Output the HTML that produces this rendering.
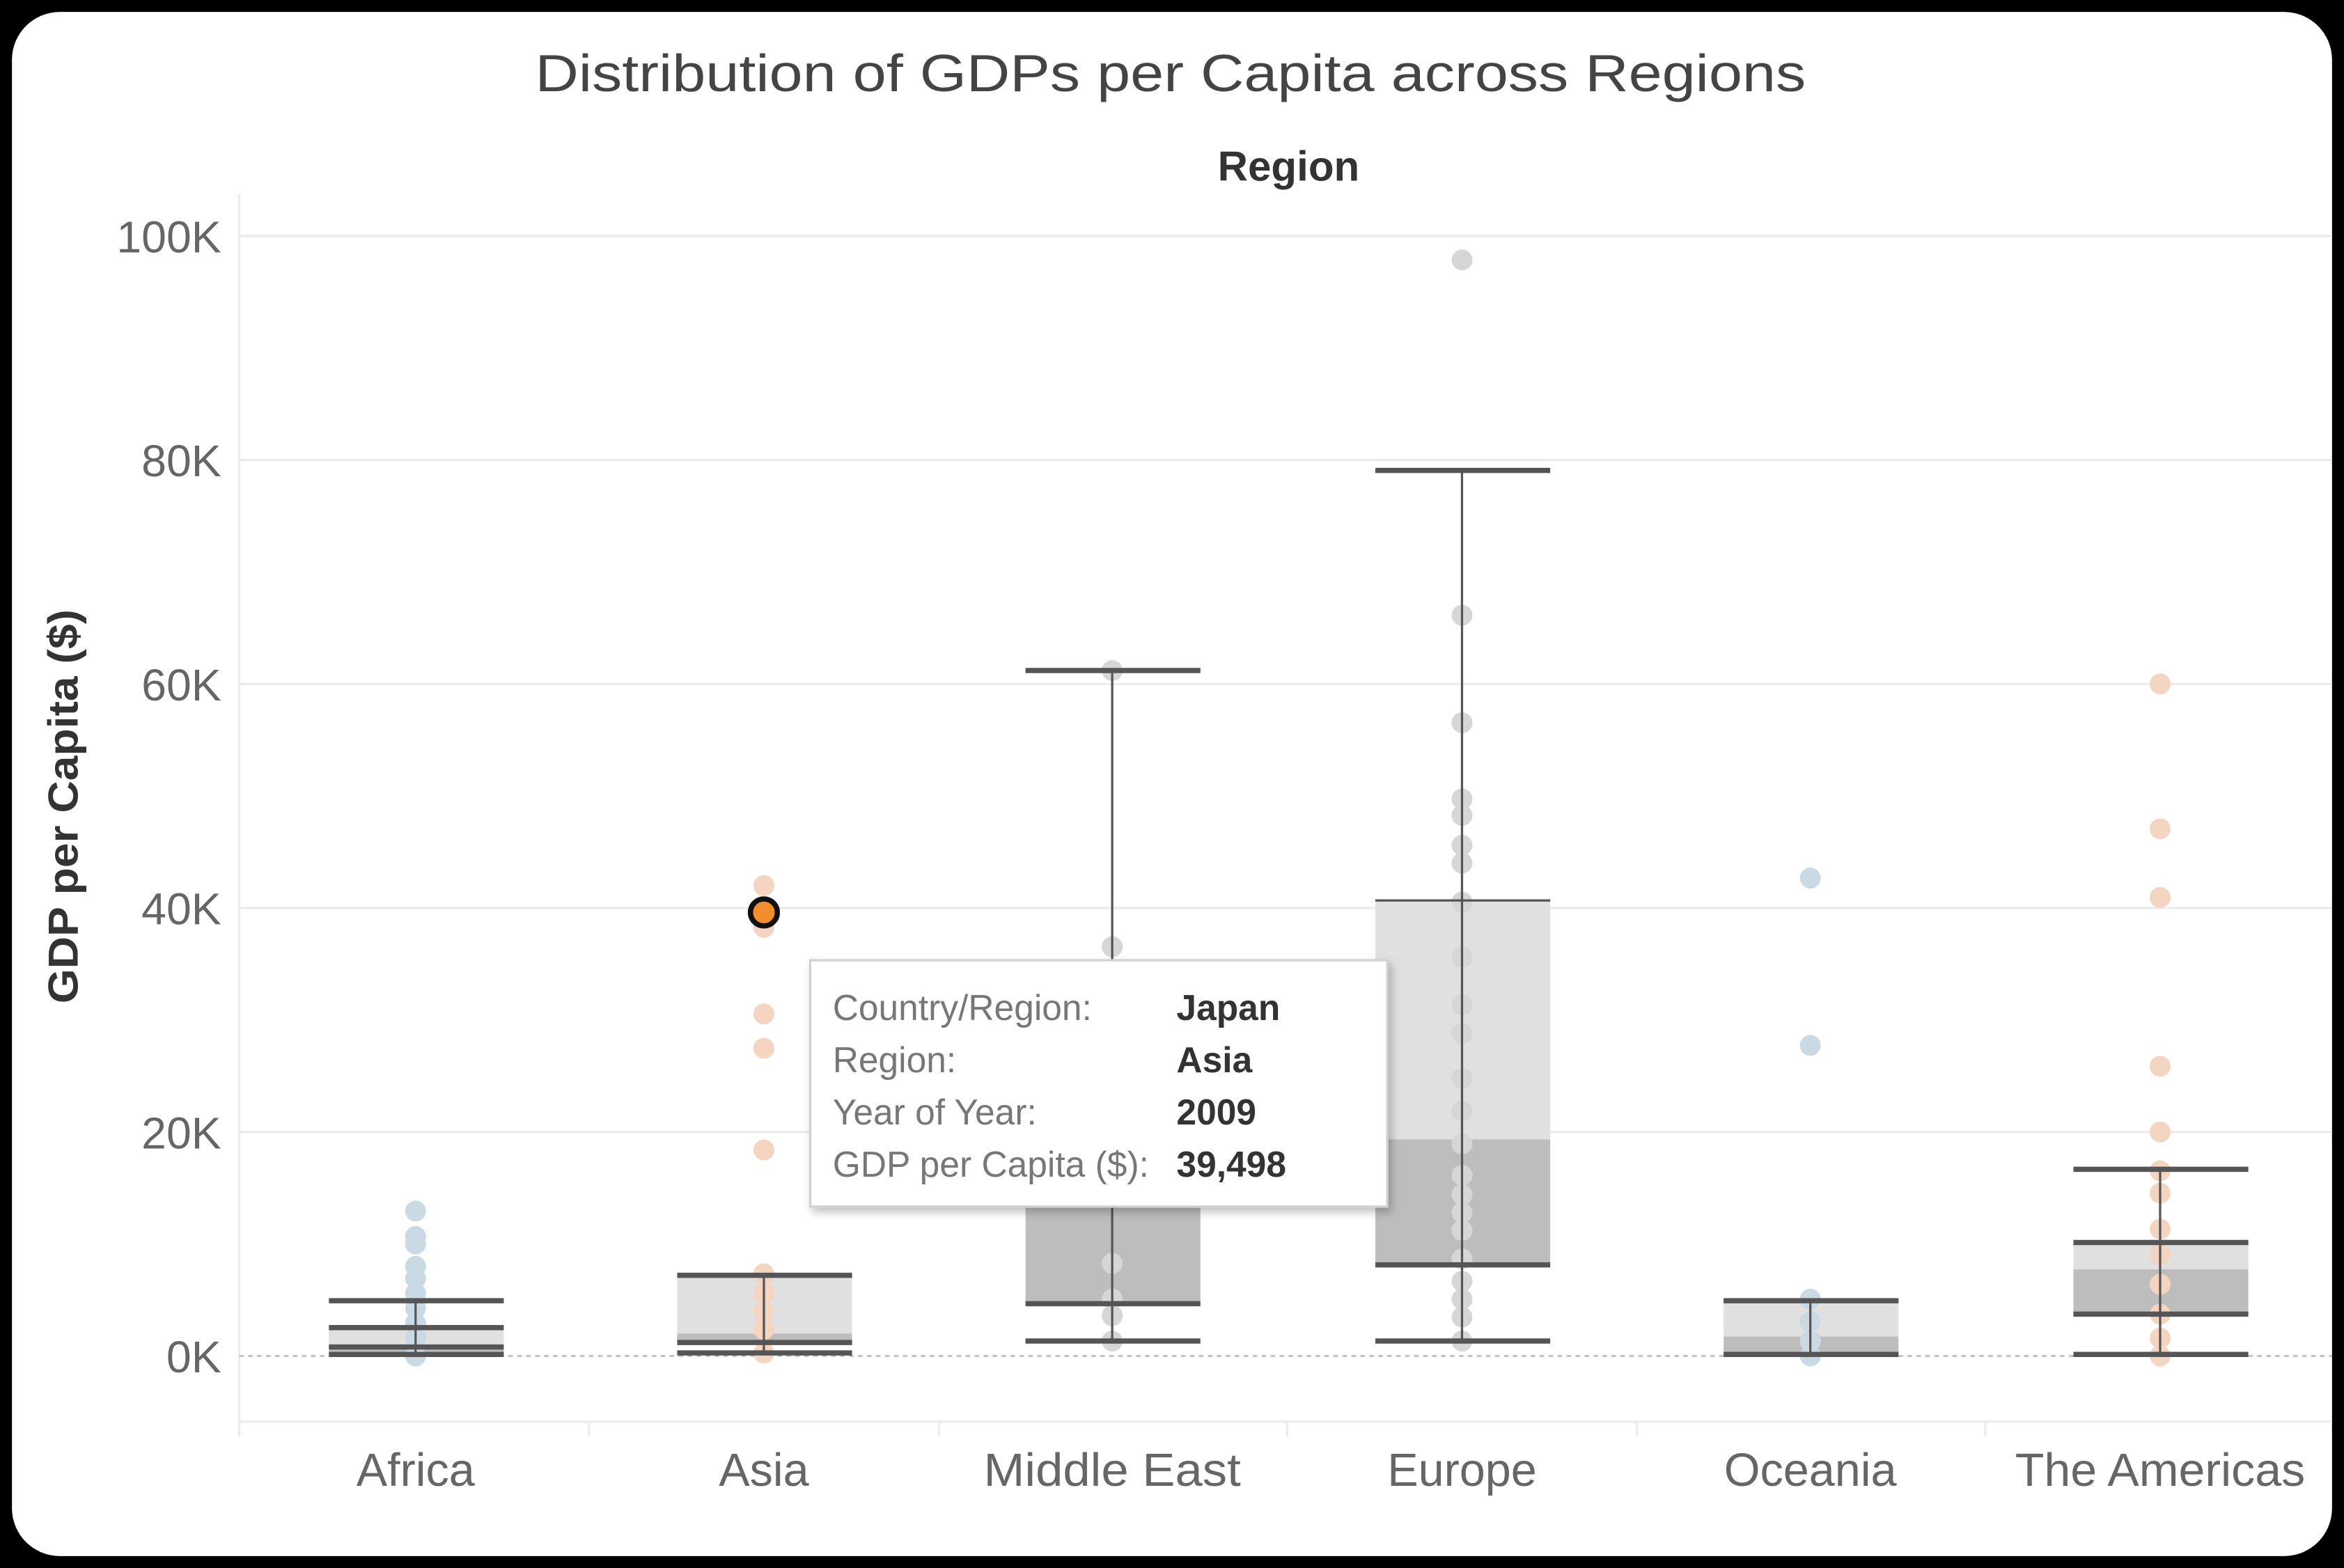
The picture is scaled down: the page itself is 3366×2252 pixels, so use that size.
<!DOCTYPE html>
<html><head><meta charset="utf-8"><style>
html,body{margin:0;padding:0;background:#fff;}
svg{display:block;}
text{font-family:"Liberation Sans","DejaVu Sans",sans-serif;}
</style></head><body>
<svg width="3366" height="2252" viewBox="0 0 1568 1050" preserveAspectRatio="none" xmlns="http://www.w3.org/2000/svg">
<defs><filter id="sh" x="-10%" y="-10%" width="130%" height="130%"><feDropShadow dx="2" dy="3" stdDeviation="3" flood-color="#000" flood-opacity="0.25"/></filter></defs>
<rect x="0" y="0" width="1568" height="1050" fill="#000"/>
<rect x="8" y="8" width="1552" height="1034" rx="32" fill="#fff"/>
<text x="358" y="61" font-size="35" fill="#444" textLength="850" lengthAdjust="spacingAndGlyphs">Distribution of GDPs per Capita across Regions</text>
<text x="862" y="121" font-size="28" font-weight="bold" fill="#333" text-anchor="middle">Region</text>
<text transform="translate(52,540) rotate(-90)" font-size="28" font-weight="bold" fill="#333" text-anchor="middle" textLength="264" lengthAdjust="spacingAndGlyphs">GDP per Capita ($)</text>
<g stroke="#ececec" stroke-width="1.5">
<line x1="160" y1="158" x2="1560" y2="158"/><line x1="160" y1="308" x2="1560" y2="308"/>
<line x1="160" y1="458" x2="1560" y2="458"/><line x1="160" y1="608" x2="1560" y2="608"/>
<line x1="160" y1="758" x2="1560" y2="758"/>
<line x1="160" y1="130" x2="160" y2="952"/>
<line x1="160" y1="952" x2="1560" y2="952"/>
<line x1="394" y1="952" x2="394" y2="962"/><line x1="628" y1="952" x2="628" y2="962"/><line x1="861" y1="952" x2="861" y2="962"/><line x1="1095" y1="952" x2="1095" y2="962"/><line x1="1328" y1="952" x2="1328" y2="962"/><line x1="160" y1="952" x2="160" y2="962"/>
</g>
<line x1="160" y1="908" x2="1560" y2="908" stroke="#bbb" stroke-width="1.2" stroke-dasharray="3,3"/>
<g font-size="30" fill="#666" text-anchor="end">
<text x="148" y="169">100K</text><text x="148" y="319">80K</text><text x="148" y="469">60K</text>
<text x="148" y="619">40K</text><text x="148" y="769">20K</text><text x="148" y="919">0K</text>
</g>
<g font-size="31" fill="#666" text-anchor="middle">
<text x="278" y="995">Africa</text><text x="511" y="995">Asia</text><text x="744" y="995" textLength="172" lengthAdjust="spacingAndGlyphs">Middle East</text>
<text x="978" y="995">Europe</text><text x="1211" y="995">Oceania</text><text x="1445" y="995" textLength="194" lengthAdjust="spacingAndGlyphs">The Americas</text>
</g>
<g>
<rect x="220" y="889" width="117" height="13" fill="#e0e0e0"/><rect x="220" y="902" width="117" height="4" fill="#bdbdbd"/>
<rect x="453" y="854" width="117" height="39" fill="#e0e0e0"/><rect x="453" y="893" width="117" height="6" fill="#bdbdbd"/>
<rect x="686" y="713" width="117" height="47" fill="#e0e0e0"/><rect x="686" y="760" width="117" height="113" fill="#bdbdbd"/>
<rect x="920" y="603" width="117" height="160" fill="#e0e0e0"/><rect x="920" y="763" width="117" height="84" fill="#bdbdbd"/>
<rect x="1153" y="871" width="117" height="24" fill="#e0e0e0"/><rect x="1153" y="895" width="117" height="13" fill="#bdbdbd"/>
<rect x="1387" y="832" width="117" height="18" fill="#e0e0e0"/><rect x="1387" y="850" width="117" height="30" fill="#bdbdbd"/>
</g>
<g fill="#c9dae4">
<circle cx="278" cy="811" r="7"/><circle cx="278" cy="828" r="7"/><circle cx="278" cy="833" r="7"/><circle cx="278" cy="848" r="7"/><circle cx="278" cy="856" r="7"/><circle cx="278" cy="866" r="7"/><circle cx="278" cy="876" r="7"/><circle cx="278" cy="886" r="7"/><circle cx="278" cy="896" r="7"/><circle cx="278" cy="908" r="7"/>
<circle cx="1211" cy="588" r="7"/><circle cx="1211" cy="700" r="7"/><circle cx="1211" cy="870" r="7"/><circle cx="1211" cy="885" r="7"/><circle cx="1211" cy="898" r="7"/><circle cx="1211" cy="908" r="7"/>
</g>
<g fill="#f4d5c2">
<circle cx="511" cy="593" r="7"/><circle cx="511" cy="621" r="7"/><circle cx="511" cy="679" r="7"/><circle cx="511" cy="702" r="7"/><circle cx="511" cy="770" r="7"/><circle cx="511" cy="853" r="7"/><circle cx="511" cy="866" r="7"/><circle cx="511" cy="878" r="7"/><circle cx="511" cy="890" r="7"/><circle cx="511" cy="906" r="7"/>
<circle cx="1445" cy="458" r="7"/><circle cx="1445" cy="555" r="7"/><circle cx="1445" cy="601" r="7"/><circle cx="1445" cy="714" r="7"/><circle cx="1445" cy="758" r="7"/><circle cx="1445" cy="784" r="7"/><circle cx="1445" cy="799" r="7"/><circle cx="1445" cy="823" r="7"/><circle cx="1445" cy="840" r="7"/><circle cx="1445" cy="860" r="7"/><circle cx="1445" cy="880" r="7"/><circle cx="1445" cy="896" r="7"/><circle cx="1445" cy="908" r="7"/>
</g>
<g fill="#d6d6d6">
<circle cx="744" cy="449" r="7"/><circle cx="744" cy="634" r="7"/><circle cx="744" cy="846" r="7"/><circle cx="744" cy="870" r="7"/><circle cx="744" cy="881" r="7"/><circle cx="744" cy="898" r="7"/>
<circle cx="978" cy="174" r="7"/><circle cx="978" cy="412" r="7"/><circle cx="978" cy="484" r="7"/><circle cx="978" cy="535" r="7"/><circle cx="978" cy="546" r="7"/><circle cx="978" cy="566" r="7"/><circle cx="978" cy="578" r="7"/><circle cx="978" cy="604" r="7"/><circle cx="978" cy="641" r="7"/><circle cx="978" cy="673" r="7"/><circle cx="978" cy="692" r="7"/><circle cx="978" cy="722" r="7"/><circle cx="978" cy="744" r="7"/><circle cx="978" cy="766" r="7"/><circle cx="978" cy="787" r="7"/><circle cx="978" cy="800" r="7"/><circle cx="978" cy="812" r="7"/><circle cx="978" cy="824" r="7"/><circle cx="978" cy="843" r="7"/><circle cx="978" cy="858" r="7"/><circle cx="978" cy="870" r="7"/><circle cx="978" cy="882" r="7"/><circle cx="978" cy="898" r="7"/>
</g>
<g stroke="#555" stroke-width="1.5">
<line x1="278" y1="870" x2="278" y2="908"/><line x1="511" y1="854" x2="511" y2="906"/>
<line x1="744" y1="449" x2="744" y2="898"/><line x1="978" y1="315" x2="978" y2="898"/>
<line x1="1211" y1="871" x2="1211" y2="908"/><line x1="1445" y1="783" x2="1445" y2="908"/>
</g>
<g stroke="#555" stroke-width="3.5">
<line x1="220" y1="871" x2="337" y2="871"/><line x1="220" y1="889" x2="337" y2="889"/><line x1="220" y1="902" x2="337" y2="902"/><line x1="220" y1="907" x2="337" y2="907"/>
<line x1="453" y1="854" x2="570" y2="854"/><line x1="453" y1="899" x2="570" y2="899"/><line x1="453" y1="906" x2="570" y2="906"/>
<line x1="686" y1="449" x2="803" y2="449"/><line x1="686" y1="873" x2="803" y2="873"/><line x1="686" y1="898" x2="803" y2="898"/>
<line x1="920" y1="315" x2="1037" y2="315"/><line x1="920" y1="847" x2="1037" y2="847"/><line x1="920" y1="898" x2="1037" y2="898"/>
<line x1="1153" y1="871" x2="1270" y2="871"/><line x1="1153" y1="907" x2="1270" y2="907"/>
<line x1="1387" y1="783" x2="1504" y2="783"/><line x1="1387" y1="832" x2="1504" y2="832"/><line x1="1387" y1="880" x2="1504" y2="880"/><line x1="1387" y1="907" x2="1504" y2="907"/>
</g>
<g stroke="#555" stroke-width="1.5"><line x1="920" y1="603" x2="1037" y2="603"/></g>
<circle cx="511" cy="611" r="9" fill="#f28e2b" stroke="#111" stroke-width="3.5"/>
<rect x="542" y="643" width="386" height="165" fill="#fff" stroke="#d0d0d0" stroke-width="1.5" filter="url(#sh)"/>
<g font-size="24">
<text x="557" y="683" fill="#777">Country/Region:</text><text x="787" y="683" fill="#333" font-weight="bold">Japan</text>
<text x="557" y="718" fill="#777">Region:</text><text x="787" y="718" fill="#333" font-weight="bold">Asia</text>
<text x="557" y="753" fill="#777">Year of Year:</text><text x="787" y="753" fill="#333" font-weight="bold">2009</text>
<text x="557" y="788" fill="#777">GDP per Capita ($):</text><text x="787" y="788" fill="#333" font-weight="bold">39,498</text>
</g>
</svg>
</body></html>
